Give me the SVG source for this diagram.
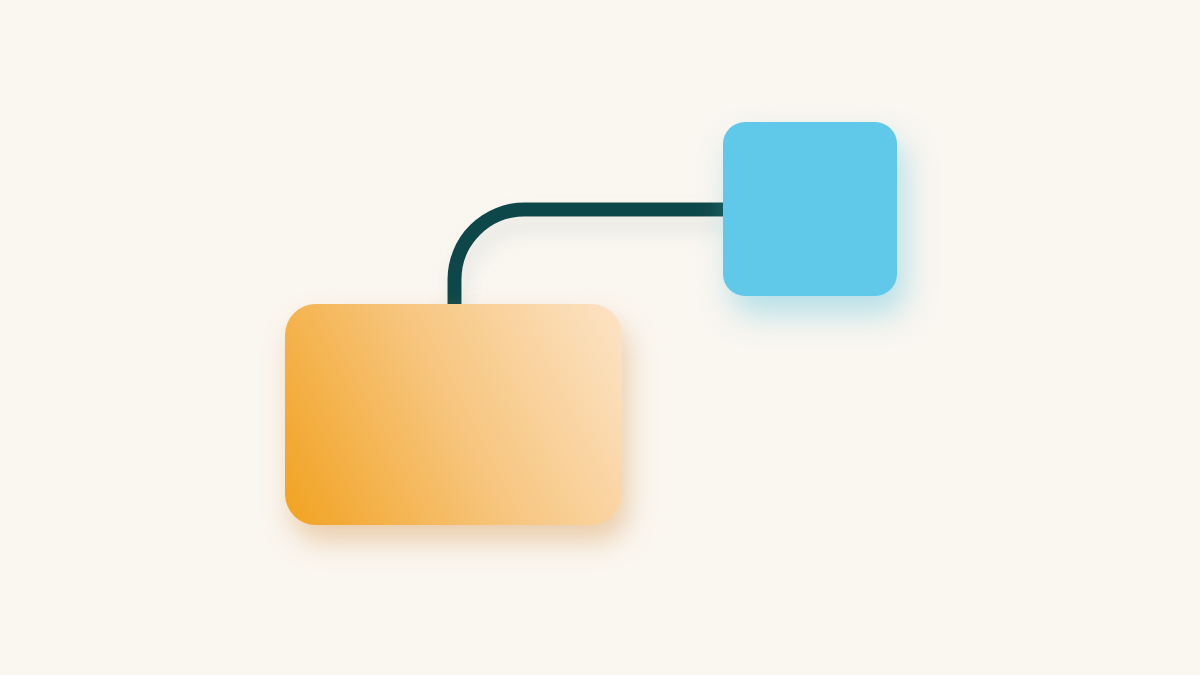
<svg xmlns="http://www.w3.org/2000/svg" width="1200" height="675" viewBox="0 0 1200 675">
  <style>
    .edge { fill: none; stroke: #0E4649; stroke-width: 14; stroke-linecap: butt; stroke-linejoin: round; }
  </style>
  <defs>
    <linearGradient id="gOrange" gradientUnits="userSpaceOnUse" x1="285" y1="500" x2="622" y2="330">
      <stop offset="0" stop-color="#F2A425"/>
      <stop offset="0.5" stop-color="#F7C57E"/>
      <stop offset="1" stop-color="#FCE2C2"/>
    </linearGradient>
    <filter id="shOrange" x="-30%" y="-30%" width="160%" height="170%">
      <feGaussianBlur in="SourceAlpha" stdDeviation="14"/>
      <feOffset dx="6" dy="16" result="b"/>
      <feFlood flood-color="#D79A55" flood-opacity="0.45"/>
      <feComposite in2="b" operator="in"/>
      <feMerge><feMergeNode/><feMergeNode in="SourceGraphic"/></feMerge>
    </filter>
    <filter id="shBlue" x="-40%" y="-40%" width="190%" height="190%">
      <feGaussianBlur in="SourceAlpha" stdDeviation="16"/>
      <feOffset dx="8" dy="18" result="b"/>
      <feFlood flood-color="#5EC3DF" flood-opacity="0.45"/>
      <feComposite in2="b" operator="in"/>
      <feMerge><feMergeNode/><feMergeNode in="SourceGraphic"/></feMerge>
    </filter>
    <filter id="shEdge" x="-20%" y="-50%" width="140%" height="250%">
      <feGaussianBlur in="SourceAlpha" stdDeviation="10"/>
      <feOffset dx="4" dy="14" result="b"/>
      <feFlood flood-color="#9DB5B2" flood-opacity="0.25"/>
      <feComposite in2="b" operator="in"/>
      <feMerge><feMergeNode/><feMergeNode in="SourceGraphic"/></feMerge>
    </filter>
  </defs>
  <rect width="1200" height="675" fill="#FAF6F0"/>
  <g id="connectors">
    <path class="edge" filter="url(#shEdge)" d="M454.5 305 V279.5 A70 70 0 0 1 524.5 209.5 H725"/>
  </g>
  <g id="node-orange">
    <rect x="285" y="304" width="337" height="221" rx="31" fill="url(#gOrange)" filter="url(#shOrange)"/>
  </g>
  <g id="node-blue">
    <rect x="723" y="122" width="174" height="174" rx="22" fill="#60C8E9" filter="url(#shBlue)"/>
  </g>
</svg>
